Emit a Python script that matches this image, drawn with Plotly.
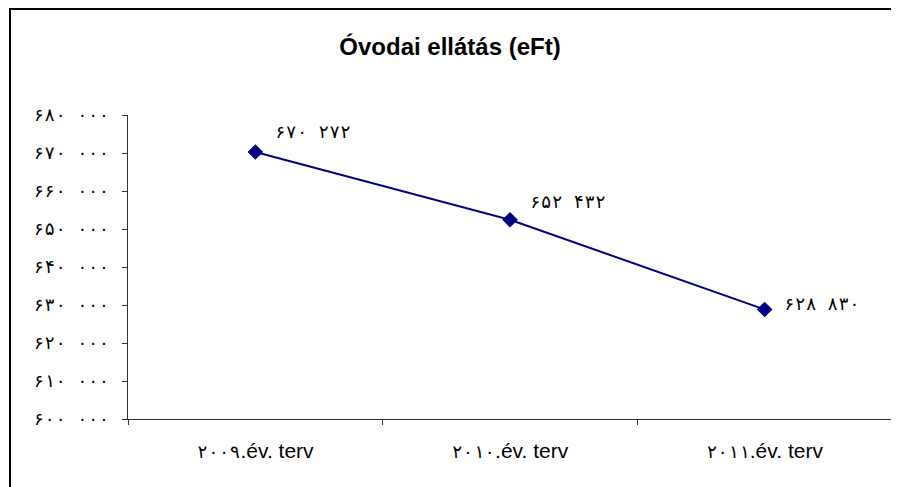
import plotly.graph_objects as go

categories = ["۲۰۰۹.év. terv", "۲۰۱۰.év. terv", "۲۰۱۱.év. terv"]
category_digits = ["۲۰۰۹", "۲۰۱۰", "۲۰۱۱"]
category_suffix = ".év. terv"
values = [670272, 652432, 628830]
value_labels = ["۶۷۰ ۲۷۲", "۶۵۲ ۴۳۲", "۶۲۸ ۸۳۰"]
y_tick_values = [600000, 610000, 620000, 630000, 640000, 650000, 660000, 670000, 680000]
y_tick_labels = ["۶۰۰ ۰۰۰", "۶۱۰ ۰۰۰", "۶۲۰ ۰۰۰", "۶۳۰ ۰۰۰", "۶۴۰ ۰۰۰",
                 "۶۵۰ ۰۰۰", "۶۶۰ ۰۰۰", "۶۷۰ ۰۰۰", "۶۸۰ ۰۰۰"]
label_shifts = [(18, 20), (18, 18), (17, 6)]

# page has an 8px body offset; compensate
OFF = 8
W, H = 899 - OFF, 487 - OFF
L, R, T, B = 128 - OFF, 7, 115 - OFF, 68
pw, ph = W - L - R, H - T - B

FONT = "Arial, Liberation Sans, sans-serif"
DIGIT_FONT = "DejaVu Sans Mono"
NAVY = "#000080"

cat_ticktext = [
    f'<span style="font-family:{DIGIT_FONT};font-size:18px">{d}</span>{category_suffix}'
    for d in category_digits
]

fig = go.Figure()
fig.add_trace(go.Scatter(
    x=categories, y=values, mode="lines+markers",
    line=dict(color=NAVY, width=2),
    marker=dict(symbol="diamond", size=12, color=NAVY),
    hoverinfo="skip", showlegend=False,
))

for c, v, t, (dx, dy) in zip(categories, values, value_labels, label_shifts):
    fig.add_annotation(x=c, y=v, text=t, showarrow=False, xanchor="left",
                       yanchor="middle", xshift=dx, yshift=dy,
                       font=dict(family=DIGIT_FONT, size=18, color="black"))

# outer chart border
fig.add_shape(type="rect", xref="paper", yref="paper",
              x0=(2 - L) / pw, x1=(W + 20 - L) / pw,
              y0=1 - (H + 20 - T) / ph, y1=1 + (T - 1) / ph,
              line=dict(color="black", width=2), fillcolor="rgba(0,0,0,0)", layer="below")

fig.update_layout(
    width=W, height=H,
    margin=dict(l=L, r=R, t=T, b=B),
    paper_bgcolor="white", plot_bgcolor="white",
    title=dict(text="<b>Óvodai ellátás (eFt)</b>", x=(450 - OFF) / W, xref="container",
               xanchor="center", y=1 - (47 - OFF) / H, yref="container", yanchor="middle",
               font=dict(family=FONT, size=24, color="black")),
    font=dict(family=FONT, size=21, color="black"),
    xaxis=dict(type="category", range=[-0.5, 2.5], showgrid=False,
               showline=True, linecolor="#333333", linewidth=1,
               ticks="outside", ticklen=5, tickcolor="#333333",
               tickson="boundaries", ticklabelstandoff=13,
               tickvals=categories, ticktext=cat_ticktext,
               tickfont=dict(family=FONT, size=21, color="black"),
               zeroline=False, fixedrange=True),
    yaxis=dict(range=[600000, 680000], showgrid=False,
               showline=True, linecolor="#333333", linewidth=1,
               ticks="outside", ticklen=5, tickcolor="#333333",
               tickvals=y_tick_values, ticktext=y_tick_labels,
               ticklabelstandoff=9,
               tickfont=dict(family=DIGIT_FONT, size=18, color="black"),
               zeroline=False, fixedrange=True),
)

fig.write_html("out.html")
